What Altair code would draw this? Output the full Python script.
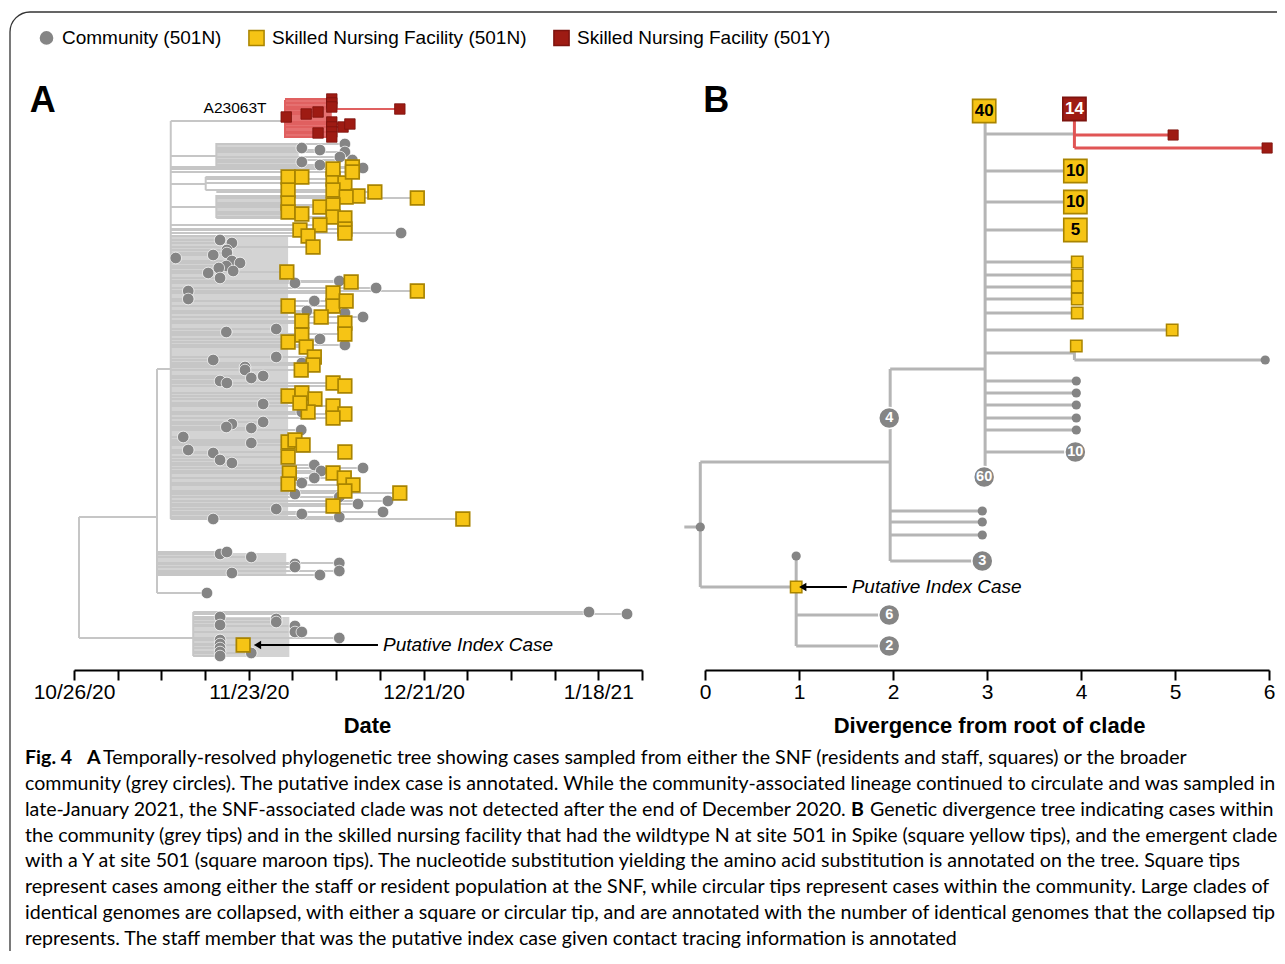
import altair as alt
import pandas as pd

FONT = "Liberation Sans"
CAP_FONT = "Lato"

# ---------------- categories ----------------
GROUPS = ["Community (501N)", "Skilled Nursing Facility (501N)", "Skilled Nursing Facility (501Y)"]
GROUP_FILL = ["#858585", "#f6c415", "#9e1b13"]
GROUP_STROKE = ["#ffffff", "#a98400", "#7c130e"]
GROUP_SHAPE = ["circle", "square", "square"]

# ---------------- panel A : time-resolved tree ----------------
# x = days after 10/26/20, pos = vertical row position in the tree layout
A_TICK_DAYS = [0, 7, 14, 21, 28, 35, 42, 49, 56, 63, 70, 77, 84, 91]
A_LABEL_DAYS = [0, 28, 56, 84]
A_LABEL_TEXT = ["10/26/20", "11/23/20", "12/21/20", "1/18/21"]

A_GREY_EDGES = [  # (x1, x2, pos1, pos2)
    (0.8, 0.8, 517, 638), (0.8, 13.3, 517, 517), (0.8, 19.1, 638, 638),
    (13.3, 13.3, 369, 593), (13.3, 15.5, 369, 369), (15.5, 15.5, 121, 519),
    (15.5, 33.8, 121, 121), (15.5, 22.8, 156, 156), (22.8, 22.8, 143, 166),
    (15.5, 21.1, 184, 184), (21.1, 21.1, 177, 190), (15.5, 22.8, 207, 207),
    (22.8, 22.8, 195, 218), (19.1, 19.1, 612, 656),
]
A_RED_EDGES = [(33.8, 33.8, 100, 138)]
# collapsed blocks of densely stacked tip branches (x1, x2, pos1, pos2)
A_GREY_BLOCKS = [
    (22.8, 36.0, 143, 166), (22.8, 34.3, 195, 218), (15.5, 34.3, 236, 519),
    (13.3, 34.0, 553, 575), (19.1, 34.5, 617, 657),
]
A_RED_BLOCKS = [(33.8, 41.3, 100, 138)]

# tips: (day, pos, parent_day)
A_SNF_Y = [
    (34.0, 117, 33.8), (37.2, 114, 33.8), (39.1, 112, 33.8), (41.3, 99, 33.8),
    (41.3, 103, 33.8), (41.3, 107, 33.8), (41.3, 122, 33.8), (41.3, 127, 33.8),
    (41.3, 132, 33.8), (41.3, 137, 33.8), (39.1, 133, 33.8), (43.1, 127, 33.8),
    (44.2, 124, 33.8), (52.2, 109, 33.8),
]
A_COMMUNITY = [
    (36.5, 148, 22.8), (39.4, 150, 22.8), (43.4, 144, 22.8), (43.4, 152, 22.8),
    (42.6, 157, 22.8), (36.5, 162, 22.8), (39.4, 165, 22.8), (44.6, 160, 22.8),
    (46.3, 168, 22.8),
    (52.4, 233, 15.5), (23.4, 240, 15.5), (25.3, 243, 15.5), (24.5, 250, 15.5),
    (24.5, 253, 15.5), (16.3, 258, 15.5), (22.3, 255, 15.5), (25.3, 261, 15.5),
    (26.6, 263, 15.5), (24.4, 266, 15.5), (23.2, 268, 15.5), (25.5, 271, 15.5),
    (21.5, 273, 15.5), (23.4, 278, 15.5), (35.4, 283, 15.5), (42.5, 281, 15.5),
    (48.4, 288, 15.5), (18.3, 291, 15.5), (18.3, 299, 15.5), (38.5, 301, 15.5),
    (37.3, 311, 15.5), (43.4, 313, 15.5), (46.3, 317, 15.5), (24.4, 332, 15.5),
    (32.4, 329, 15.5), (39.4, 339, 15.5), (43.4, 345, 15.5), (36.5, 363, 15.5),
    (32.4, 357, 15.5), (22.3, 360, 15.5), (27.4, 367, 15.5), (27.4, 370, 15.5),
    (28.4, 378, 15.5), (30.3, 376, 15.5), (23.4, 381, 15.5), (24.5, 383, 15.5),
    (30.3, 404, 15.5), (36.5, 412, 15.5), (30.3, 422, 15.5), (25.3, 424, 15.5),
    (24.4, 427, 15.5), (28.4, 428, 15.5), (36.4, 430, 15.5), (17.5, 437, 15.5),
    (28.4, 443, 15.5), (18.3, 450, 15.5), (22.3, 453, 15.5), (23.4, 460, 15.5),
    (25.3, 463, 15.5), (38.5, 465, 15.5), (46.3, 468, 15.5), (39.6, 471, 15.5),
    (38.5, 478, 15.5), (36.5, 483, 15.5), (35.4, 494, 15.5), (42.5, 497, 15.5),
    (45.5, 504, 15.5), (50.3, 501, 15.5), (49.5, 512, 15.5), (32.4, 509, 15.5),
    (36.5, 514, 15.5), (42.5, 517, 15.5), (22.3, 519, 15.5),
    (21.3, 593, 13.3), (23.4, 554, 13.3), (24.5, 552, 13.3), (28.4, 557, 13.3),
    (35.4, 564, 13.3), (35.4, 567, 13.3), (42.5, 563, 13.3), (42.5, 571, 13.3),
    (25.3, 573, 13.3), (39.4, 575, 13.3),
    (82.5, 612, 19.1), (88.6, 614, 19.1), (23.4, 617, 19.1), (23.4, 625, 19.1),
    (32.4, 619, 19.1), (32.4, 622, 19.1), (35.4, 626, 19.1), (35.4, 632, 19.1),
    (36.5, 632, 19.1), (42.5, 638, 19.1), (23.4, 640, 19.1), (23.4, 644, 19.1),
    (23.4, 648, 19.1), (23.4, 652, 19.1), (23.4, 656, 19.1), (28.4, 653, 19.1),
]
A_SNF_N = [
    (34.3, 177, 21.1), (36.5, 177, 21.1), (34.3, 190, 21.1), (41.5, 179, 21.1),
    (43.4, 183, 21.1), (41.5, 190, 21.1),
    (41.5, 169, 15.5), (44.6, 167, 15.5), (44.6, 172, 15.5),
    (45.5, 196, 22.8), (48.2, 192, 22.8), (55.0, 198, 22.8), (43.6, 197, 22.8),
    (39.4, 207, 22.8), (41.5, 205, 22.8), (34.3, 203, 22.8), (34.3, 212, 22.8),
    (36.5, 214, 22.8), (41.5, 217, 22.8), (43.4, 218, 22.8),
    (39.4, 225, 15.5), (43.4, 229, 15.5), (43.4, 233, 15.5), (36.2, 230, 15.5),
    (37.5, 236, 15.5), (38.3, 247, 15.5), (34.1, 272, 15.5), (44.4, 282, 15.5),
    (55.0, 291, 15.5), (41.5, 293, 15.5), (41.5, 306, 15.5), (43.6, 301, 15.5),
    (34.3, 306, 15.5), (39.6, 317, 15.5), (36.5, 321, 15.5), (43.4, 323, 15.5),
    (43.4, 334, 15.5), (36.5, 335, 15.5), (34.3, 342, 15.5), (37.2, 347, 15.5),
    (38.5, 357, 15.5), (38.3, 365, 15.5), (36.4, 370, 15.5), (41.5, 383, 15.5),
    (43.4, 386, 15.5), (34.3, 396, 15.5), (36.5, 393, 15.5), (38.6, 399, 15.5),
    (37.5, 412, 15.5), (36.2, 403, 15.5), (41.5, 406, 15.5), (43.4, 414, 15.5),
    (41.5, 418, 15.5), (34.3, 442, 15.5), (35.4, 440, 15.5), (36.7, 445, 15.5),
    (34.3, 457, 15.5), (43.4, 452, 15.5), (34.5, 473, 15.5), (34.3, 484, 15.5),
    (41.5, 473, 15.5), (43.3, 478, 15.5), (44.7, 485, 15.5), (43.4, 491, 15.5),
    (52.2, 493, 15.5), (41.5, 506, 15.5), (62.3, 519, 15.5),
    (27.1, 645, 19.1),
]
A_MUTATION_LABEL = ("A23063T", 25.8, 108)
A_INDEX_ARROW = (29.4, 48.7, 645)   # arrow from x1 (head) to x2, at pos
A_INDEX_TEXT = ("Putative Index Case", 49.5, 645)
A_PANEL = ("A", -5.0, 101)

# ---------------- panel B : divergence tree ----------------
B_TICKS = [0, 1, 2, 3, 4, 5, 6]
B_GREY_EDGES = [
    (-0.22, -0.05, 527, 527), (-0.05, -0.05, 462, 587), (-0.05, 1.97, 462, 462),
    (1.97, 1.97, 369, 561), (-0.05, 0.97, 587, 587), (0.97, 0.97, 556, 646),
    (0.97, 1.96, 615, 615), (0.97, 1.96, 646, 646), (1.97, 2.98, 369, 369),
    (1.97, 2.95, 511, 511), (1.97, 2.95, 522, 522), (1.97, 2.95, 535, 535),
    (1.97, 2.95, 561, 561), (2.98, 2.98, 118, 477), (2.98, 3.93, 134, 134),
    (2.98, 3.94, 171, 171), (2.98, 3.94, 202, 202), (2.98, 3.94, 230, 230),
    (2.98, 3.96, 262, 262), (2.98, 3.96, 275, 275), (2.98, 3.96, 287, 287),
    (2.98, 3.96, 299, 299), (2.98, 3.96, 313, 313), (2.98, 4.97, 330, 330),
    (2.98, 3.93, 353, 353), (3.93, 3.93, 346, 360), (3.93, 5.96, 360, 360),
    (2.98, 3.95, 381, 381), (2.98, 3.95, 393, 393), (2.98, 3.95, 405, 405),
    (2.98, 3.95, 418, 418), (2.98, 3.95, 430, 430), (2.98, 3.94, 452, 452),
]
B_RED_EDGES = [(3.93, 3.93, 109, 148), (3.93, 4.98, 135, 135), (3.93, 5.98, 148, 148)]
B_DOTS = [(-0.05, 527), (0.97, 556), (2.95, 511), (2.95, 522), (2.95, 535),
          (3.95, 381), (3.95, 393), (3.95, 405), (3.95, 418), (3.95, 430), (5.96, 360)]
B_SNF_N = [(3.96, 262), (3.96, 275), (3.96, 287), (3.96, 299), (3.96, 313),
           (4.97, 330), (3.95, 346), (0.97, 587)]
B_SNF_Y = [(4.98, 135), (5.98, 148)]
B_BOXES_N = [(2.97, 111, "40"), (3.94, 171, "10"), (3.94, 202, "10"), (3.94, 230, "5")]
B_BOXES_Y = [(3.93, 109, "14")]
B_CLUSTERS = [(1.96, 418, "4"), (2.97, 477, "60"), (3.94, 452, "10"),
              (2.95, 561, "3"), (1.96, 615, "6"), (1.96, 646, "2")]
B_INDEX_ARROW = (1.04, 1.51, 587)
B_INDEX_TEXT = ("Putative Index Case", 1.56, 587)
B_PANEL = ("B", 0.12, 101)

# ---------------- caption ----------------
CAPTION = [  # (line, indent, text, bold)
    (0, 0, "Fig. 4", True),
    (0, 62, "A", True),
    (0, 78, "Temporally-resolved phylogenetic tree showing cases sampled from either the SNF (residents and staff, squares) or the broader", False),
    (1, 0, "community (grey circles). The putative index case is annotated. While the community-associated lineage continued to circulate and was sampled in", False),
    (2, 0, "late-January 2021, the SNF-associated clade was not detected after the end of December 2020.", False),
    (2, 826, "B", True),
    (2, 845, "Genetic divergence tree indicating cases within", False),
    (3, 0, "the community (grey tips) and in the skilled nursing facility that had the wildtype N at site 501 in Spike (square yellow tips), and the emergent clade", False),
    (4, 0, "with a Y at site 501 (square maroon tips). The nucleotide substitution yielding the amino acid substitution is annotated on the tree. Square tips", False),
    (5, 0, "represent cases among either the staff or resident population at the SNF, while circular tips represent cases within the community. Large clades of", False),
    (6, 0, "identical genomes are collapsed, with either a square or circular tip, and are annotated with the number of identical genomes that the collapsed tip", False),
    (7, 0, "represents. The staff member that was the putative index case given contact tracing information is annotated", False),
]

# ================= build =================
W, H = 1267, 939
AXIS_OFFSET = 658 - H

A_X = alt.Scale(domain=[0, 91], range=[64, 632], nice=False, zero=False)
B_X = alt.Scale(domain=[0, 6], range=[695, 1259], nice=False, zero=False)
POS_Y = alt.Scale(domain=[95, 665], range=[83, 653], nice=False, zero=False)
CAP_X = alt.Scale(domain=[0, 1250], range=[15, 1265], nice=False, zero=False)
CAP_Y = alt.Scale(domain=[0, 7], range=[746, 927], nice=False, zero=False)

label_expr = " : ".join(f"datum.value == {d} ? '{t}'" for d, t in zip(A_LABEL_DAYS, A_LABEL_TEXT)) + " : ''"

axis_A = alt.Axis(orient="bottom", offset=AXIS_OFFSET, values=A_TICK_DAYS, labelExpr=label_expr,
                  title="Date", titleX=357, titleY=55, titleBaseline="middle")
axis_B = alt.Axis(orient="bottom", offset=AXIS_OFFSET, values=B_TICKS, format="d",
                  title="Divergence from root of clade", titleX=979, titleY=55, titleBaseline="middle")


def edges_df(rows):
    return pd.DataFrame(rows, columns=["x1", "x2", "y1", "y2"])


def tips_df(rows, group):
    d = pd.DataFrame(rows, columns=["x", "pos", "parent"])
    d["group"] = group
    return d


def pts_df(rows, group, cols=("x", "pos")):
    d = pd.DataFrame(rows, columns=list(cols))
    d["group"] = group
    return d


legend_def = alt.Legend(title=None, orient="none", legendX=27, legendY=16, direction="horizontal",
                        labelFont=FONT, labelFontSize=19, labelColor="black", labelLimit=0,
                        symbolSize=230, symbolStrokeWidth=1.5, columnPadding=23, labelOffset=6, padding=0)
fill_enc = alt.Fill("group:N", scale=alt.Scale(domain=GROUPS, range=GROUP_FILL), legend=legend_def)
shape_enc = alt.Shape("group:N", scale=alt.Scale(domain=GROUPS, range=GROUP_SHAPE), legend=legend_def)
stroke_enc = alt.Stroke("group:N", scale=alt.Scale(domain=GROUPS, range=GROUP_STROKE), legend=legend_def)

layers = []

# frame around the figure
frame = alt.Chart(pd.DataFrame({"k": [0]})).mark_rect(
    fillOpacity=0, stroke="#333333", strokeWidth=1.3, cornerRadius=20
).encode(x=alt.value(0), x2=alt.value(W + 60), y=alt.value(0), y2=alt.value(H + 60))
layers.append(frame)

# ---- panel A
grey_blocks = alt.Chart(edges_df(A_GREY_BLOCKS)).mark_rect(color="#d3d3d3").encode(
    x=alt.X("x1:Q", scale=A_X, axis=axis_A), x2="x2", y=alt.Y("y1:Q", scale=POS_Y, axis=None), y2="y2")
red_blocks = alt.Chart(edges_df(A_RED_BLOCKS)).mark_rect(color="#e57070").encode(
    x=alt.X("x1:Q", scale=A_X, axis=None), x2="x2", y=alt.Y("y1:Q", scale=POS_Y, axis=None), y2="y2")
a_grey_edges = alt.Chart(edges_df(A_GREY_EDGES)).mark_rule(color="#c6c6c6", strokeWidth=2).encode(
    x=alt.X("x1:Q", scale=A_X, axis=None), x2="x2", y=alt.Y("y1:Q", scale=POS_Y, axis=None), y2="y2")
a_red_edges = alt.Chart(edges_df(A_RED_EDGES)).mark_rule(color="#e06060", strokeWidth=2).encode(
    x=alt.X("x1:Q", scale=A_X, axis=None), x2="x2", y=alt.Y("y1:Q", scale=POS_Y, axis=None), y2="y2")
layers += [grey_blocks, red_blocks, a_grey_edges, a_red_edges]

tipsC = tips_df(A_COMMUNITY, GROUPS[0])
tipsN = tips_df(A_SNF_N, GROUPS[1])
tipsY = tips_df(A_SNF_Y, GROUPS[2])
grey_tips = pd.concat([tipsC, tipsN])

branch_grey = alt.Chart(grey_tips).mark_rule(color="#c6c6c6", strokeWidth=2).encode(
    x=alt.X("parent:Q", scale=A_X, axis=None), x2="x", y=alt.Y("pos:Q", scale=POS_Y, axis=None))
branch_red = alt.Chart(tipsY).mark_rule(color="#e06060", strokeWidth=2).encode(
    x=alt.X("parent:Q", scale=A_X, axis=None), x2="x", y=alt.Y("pos:Q", scale=POS_Y, axis=None))
layers += [branch_grey, branch_red]


def tip_layer(df, xscale, size, sw):
    return alt.Chart(df).mark_point(filled=True, opacity=1, size=size, strokeWidth=sw).encode(
        x=alt.X("x:Q", scale=xscale, axis=None), y=alt.Y("pos:Q", scale=POS_Y, axis=None),
        fill=fill_enc, shape=shape_enc, stroke=stroke_enc)


layers += [tip_layer(tipsC, A_X, 135, 0.7), tip_layer(tipsN, A_X, 185, 1.7), tip_layer(tipsY, A_X, 110, 0.8)]

# annotations A
mut = pd.DataFrame([A_MUTATION_LABEL], columns=["t", "x", "pos"])
layers.append(alt.Chart(mut).mark_text(font=FONT, fontSize=15.5, color="black").encode(
    x=alt.X("x:Q", scale=A_X, axis=None), y=alt.Y("pos:Q", scale=POS_Y, axis=None), text="t"))


def arrow_layers(arrow, text, xscale):
    a = pd.DataFrame([arrow], columns=["x1", "x2", "pos"])
    t = pd.DataFrame([text], columns=["t", "x", "pos"])
    line = alt.Chart(a).mark_rule(color="black", strokeWidth=2).encode(
        x=alt.X("x1:Q", scale=xscale, axis=None), x2="x2", y=alt.Y("pos:Q", scale=POS_Y, axis=None))
    head = alt.Chart(a).mark_point(shape="triangle-left", filled=True, color="black", size=70, opacity=1).encode(
        x=alt.X("x1:Q", scale=xscale, axis=None), y=alt.Y("pos:Q", scale=POS_Y, axis=None))
    txt = alt.Chart(t).mark_text(font=FONT, fontSize=19, fontStyle="italic", align="left", color="black").encode(
        x=alt.X("x:Q", scale=xscale, axis=None), y=alt.Y("pos:Q", scale=POS_Y, axis=None), text="t")
    return [line, head, txt]


layers += arrow_layers(A_INDEX_ARROW, A_INDEX_TEXT, A_X)

for panel, xs in ((A_PANEL, A_X), (B_PANEL, B_X)):
    p = pd.DataFrame([panel], columns=["t", "x", "pos"])
    layers.append(alt.Chart(p).mark_text(font=FONT, fontSize=36, fontWeight="bold", color="black").encode(
        x=alt.X("x:Q", scale=xs, axis=None), y=alt.Y("pos:Q", scale=POS_Y, axis=None), text="t"))

# ---- panel B
b_grey = alt.Chart(edges_df(B_GREY_EDGES)).mark_rule(color="#b5b5b5", strokeWidth=3).encode(
    x=alt.X("x1:Q", scale=B_X, axis=axis_B), x2="x2", y=alt.Y("y1:Q", scale=POS_Y, axis=None), y2="y2")
b_red = alt.Chart(edges_df(B_RED_EDGES)).mark_rule(color="#e05555", strokeWidth=3).encode(
    x=alt.X("x1:Q", scale=B_X, axis=None), x2="x2", y=alt.Y("y1:Q", scale=POS_Y, axis=None), y2="y2")
layers += [b_grey, b_red]

layers += [
    tip_layer(pts_df(B_DOTS, GROUPS[0]), B_X, 85, 0),
    tip_layer(pts_df(B_SNF_N, GROUPS[1]), B_X, 130, 1.5),
    tip_layer(pts_df(B_SNF_Y, GROUPS[2]), B_X, 105, 0.8),
    tip_layer(pd.concat([pts_df(B_BOXES_N, GROUPS[1], ("x", "pos", "n")),
                         pts_df(B_BOXES_Y, GROUPS[2], ("x", "pos", "n"))]), B_X, 540, 1.6),
]
clusters = pts_df(B_CLUSTERS, GROUPS[0], ("x", "pos", "n"))
layers.append(alt.Chart(clusters).mark_point(filled=True, opacity=1, size=440, strokeWidth=1.5, stroke="white").encode(
    x=alt.X("x:Q", scale=B_X, axis=None), y=alt.Y("pos:Q", scale=POS_Y, axis=None), fill=fill_enc, shape=shape_enc))

for rows, col, fs in ((B_BOXES_N, "black", 17), (B_BOXES_Y, "white", 17), (B_CLUSTERS, "white", 14.5)):
    d = pd.DataFrame(rows, columns=["x", "pos", "n"])
    layers.append(alt.Chart(d).mark_text(font=FONT, fontSize=fs, fontWeight="bold", fill=col).encode(
        x=alt.X("x:Q", scale=B_X, axis=None), y=alt.Y("pos:Q", scale=POS_Y, axis=None), text="n"))

layers += arrow_layers(B_INDEX_ARROW, B_INDEX_TEXT, B_X)

# ---- caption
cap = pd.DataFrame(CAPTION, columns=["line", "indent", "t", "bold"])
for flag, weight in ((False, "normal"), (True, "bold")):
    layers.append(alt.Chart(cap[cap["bold"] == flag]).mark_text(
        font=CAP_FONT, fontSize=19.6, fontWeight=weight, align="left", color="black").encode(
        x=alt.X("indent:Q", scale=CAP_X, axis=None), y=alt.Y("line:Q", scale=CAP_Y, axis=None), text="t"))

chart = alt.layer(*layers).resolve_scale(x="independent", y="independent").properties(
    width=W, height=H, padding={"left": 2, "top": 4, "right": 0, "bottom": 0},
    autosize=alt.AutoSizeParams(type="none"), background="white",
).configure_view(stroke=None).configure_axis(
    domainColor="black", domainWidth=2, tickColor="black", tickWidth=2, tickSize=10,
    labelFont=FONT, labelFontSize=21, labelColor="black", labelPadding=1, labelFlush=False,
    labelOverlap=False, titleFont=FONT, titleFontSize=22, titleFontWeight="bold", titleColor="black",
    grid=False,
)

chart.save("out.html", embed_options={"renderer": "svg", "actions": False})
